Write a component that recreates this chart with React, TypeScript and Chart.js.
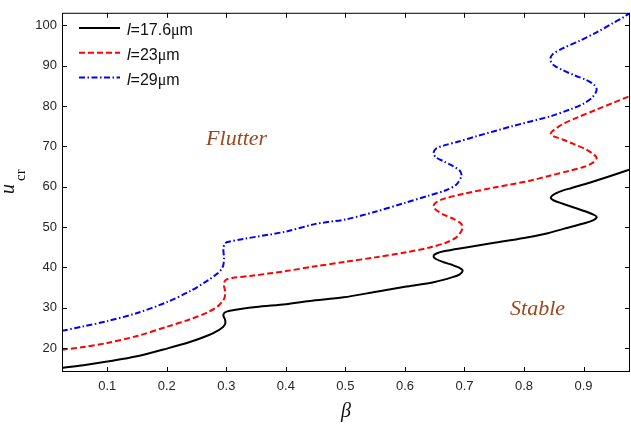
import React, { useEffect, useRef } from 'react';
import { Chart, registerables } from 'chart.js';

Chart.register(...registerables);

// ---- axis ranges and tick labels ----
const X_MIN = 0.024;
const X_MAX = 0.978;
const Y_MIN = 14.1;
const Y_MAX = 103.1;
const xTicks = [0.1, 0.2, 0.3, 0.4, 0.5, 0.6, 0.7, 0.8, 0.9];
const yTicks = [20, 30, 40, 50, 60, 70, 80, 90, 100];

// ---- series (beta, u_cr) ----
const seriesLengths = ['17.6', '23', '29'];

const blackX = [0.024, 0.06, 0.1, 0.15, 0.2, 0.24, 0.27, 0.285, 0.294, 0.298, 0.298, 0.296, 0.295, 0.298, 0.306, 0.35, 0.4, 0.44, 0.497, 0.552, 0.6, 0.65, 0.68, 0.692, 0.697, 0.693, 0.68, 0.665, 0.652, 0.648, 0.652, 0.665, 0.7, 0.75, 0.8, 0.84, 0.87, 0.9, 0.915, 0.922, 0.918, 0.905, 0.885, 0.865, 0.85, 0.845, 0.848, 0.86, 0.88, 0.91, 0.94, 0.978];
const blackY = [15.1, 15.8, 16.7, 18.0, 19.9, 21.6, 23.2, 24.3, 25.2, 26.0, 27.0, 27.7, 28.3, 28.9, 29.3, 30.2, 30.9, 31.7, 32.6, 34.0, 35.2, 36.4, 37.6, 38.3, 39.2, 39.8, 40.6, 41.3, 42.1, 42.8, 43.4, 44.0, 44.9, 46.1, 47.3, 48.5, 49.7, 50.9, 51.6, 52.4, 53.0, 53.8, 54.8, 55.8, 56.6, 57.2, 57.9, 58.8, 59.7, 61.0, 62.4, 64.3];

const redX = [0.024, 0.06, 0.1, 0.15, 0.2, 0.24, 0.27, 0.285, 0.293, 0.297, 0.298, 0.296, 0.297, 0.3, 0.31, 0.34, 0.4, 0.45, 0.5, 0.55, 0.6, 0.64, 0.67, 0.688, 0.697, 0.694, 0.682, 0.665, 0.652, 0.648, 0.652, 0.665, 0.7, 0.75, 0.81, 0.845, 0.875, 0.9, 0.915, 0.922, 0.918, 0.905, 0.885, 0.865, 0.85, 0.845, 0.848, 0.866, 0.89, 0.92, 0.95, 0.978];
const redY = [19.6, 20.3, 21.3, 23.0, 25.3, 27.2, 29.0, 30.3, 31.5, 32.5, 34.0, 35.5, 36.5, 37.0, 37.4, 37.9, 39.1, 40.3, 41.4, 42.5, 43.7, 44.9, 46.2, 47.7, 49.8, 50.9, 52.0, 53.1, 54.3, 55.2, 56.1, 57.0, 58.3, 59.8, 61.5, 62.8, 63.9, 64.9, 65.9, 67.1, 67.9, 69.2, 70.5, 71.7, 72.5, 73.1, 73.8, 75.6, 77.2, 79.0, 80.8, 82.5];

const blueX = [0.024, 0.06, 0.1, 0.15, 0.2, 0.24, 0.27, 0.285, 0.292, 0.295, 0.296, 0.295, 0.297, 0.302, 0.33, 0.4, 0.45, 0.5, 0.55, 0.6, 0.64, 0.67, 0.686, 0.695, 0.692, 0.68, 0.665, 0.652, 0.648, 0.652, 0.665, 0.69, 0.72, 0.78, 0.845, 0.88, 0.9, 0.915, 0.922, 0.918, 0.905, 0.885, 0.865, 0.85, 0.844, 0.848, 0.865, 0.894, 0.925, 0.95, 0.968, 0.978];
const blueY = [24.3, 25.4, 26.7, 28.7, 31.4, 34.2, 36.9, 38.5, 39.6, 40.6, 42.5, 44.5, 45.8, 46.3, 47.1, 48.9, 50.8, 51.9, 53.8, 56.0, 57.8, 59.2, 60.5, 62.7, 64.0, 65.2, 66.3, 67.3, 68.3, 69.4, 70.2, 71.2, 72.5, 75.0, 77.5, 79.3, 80.6, 82.2, 84.0, 85.2, 86.4, 87.6, 88.9, 90.1, 91.5, 92.8, 94.3, 96.2, 98.5, 100.6, 102.1, 103.1];

// ---- region annotations: text, beta, u_cr (baseline) ----
const regionText = ['Flutter', 'Stable'];
const regionX = [0.266, 0.7766];
const regionY = [70.35, 28.2];

const lineColors = ['#000000', '#ff0000', '#0000ff'];
const lineDashes: number[][] = [[], [6, 3], [6, 2.5, 1.5, 2.5]];

function zip(xs: number[], ys: number[]) {
  return xs.map((x, i) => ({ x, y: ys[i] }));
}

const decorPlugin = {
  id: 'decor',
  afterDraw(chart: any) {
    const { ctx, chartArea: a, scales } = chart;
    const xs = scales.x;
    const ys = scales.y;
    ctx.save();
    // frame
    ctx.strokeStyle = '#000';
    ctx.lineWidth = 1;
    ctx.setLineDash([]);
    ctx.strokeRect(a.left + 0.5, a.top + 0.5, a.right - a.left - 1, a.bottom - a.top - 1);
    // inward ticks
    const tl = 5;
    ctx.beginPath();
    for (const v of xTicks) {
      const p = Math.round(xs.getPixelForValue(v)) + 0.5;
      ctx.moveTo(p, a.bottom);
      ctx.lineTo(p, a.bottom - tl);
      ctx.moveTo(p, a.top);
      ctx.lineTo(p, a.top + tl);
    }
    for (const v of yTicks) {
      const p = Math.round(ys.getPixelForValue(v)) + 0.5;
      ctx.moveTo(a.left, p);
      ctx.lineTo(a.left + tl, p);
      ctx.moveTo(a.right, p);
      ctx.lineTo(a.right - tl, p);
    }
    ctx.stroke();

    // legend
    for (let i = 0; i < seriesLengths.length; i++) {
      const ly = 28 + i * 24.8;
      ctx.strokeStyle = lineColors[i];
      ctx.lineWidth = 2;
      ctx.setLineDash(lineDashes[i]);
      ctx.beginPath();
      ctx.moveTo(79, ly);
      ctx.lineTo(120, ly);
      ctx.stroke();
      ctx.setLineDash([]);
      ctx.fillStyle = '#111';
      ctx.textBaseline = 'alphabetic';
      ctx.textAlign = 'left';
      const by = 35 + i * 24.8;
      let x = 127;
      ctx.font = 'italic 16px "Liberation Sans", Arial, sans-serif';
      ctx.fillText('l', x, by);
      x += ctx.measureText('l').width;
      ctx.font = '16px "Liberation Sans", Arial, sans-serif';
      const s = '=' + seriesLengths[i];
      ctx.fillText(s, x, by);
      x += ctx.measureText(s).width;
      ctx.font = '16px "Liberation Serif", "Times New Roman", serif';
      ctx.fillText('\u03bc', x, by);
      x += ctx.measureText('\u03bc').width;
      ctx.font = '16px "Liberation Sans", Arial, sans-serif';
      ctx.fillText('m', x, by);
    }

    // region labels
    ctx.fillStyle = '#a0461e';
    ctx.font = 'italic 22px "Liberation Serif", "Times New Roman", serif';
    for (let i = 0; i < regionText.length; i++) {
      ctx.fillText(regionText[i], xs.getPixelForValue(regionX[i]), ys.getPixelForValue(regionY[i]));
    }

    // axis titles
    ctx.fillStyle = '#111';
    ctx.textAlign = 'center';
    ctx.textBaseline = 'middle';
    ctx.font = 'italic 20px "Liberation Serif", "Times New Roman", serif';
    ctx.fillText('\u03b2', (a.left + a.right) / 2, 412);

    ctx.save();
    ctx.translate(14, 194);
    ctx.rotate(-Math.PI / 2);
    ctx.textAlign = 'left';
    ctx.textBaseline = 'alphabetic';
    ctx.font = 'italic 20px "Liberation Serif", "Times New Roman", serif';
    ctx.fillText('u', 0, 0);
    const uw = ctx.measureText('u').width;
    ctx.font = '15px "Liberation Serif", "Times New Roman", serif';
    ctx.fillText('cr', uw + 3, 11);
    ctx.restore();

    ctx.restore();
  },
};

export default function App() {
  const ref = useRef<HTMLCanvasElement | null>(null);

  useEffect(() => {
    if (!ref.current) return;
    const datasets = [
      zip(blackX, blackY),
      zip(redX, redY),
      zip(blueX, blueY),
    ].map((data, i) => ({
      label: 'l=' + seriesLengths[i] + '\u03bcm',
      data,
      showLine: true,
      borderColor: lineColors[i],
      backgroundColor: lineColors[i],
      borderWidth: 2,
      borderDash: lineDashes[i],
      pointRadius: 0,
      pointHoverRadius: 0,
      tension: 0.3,
      fill: false,
    }));

    const tickFont = { family: '"Liberation Sans", Arial, sans-serif', size: 13 };
    const chart = new Chart(ref.current, {
      type: 'scatter',
      data: { datasets },
      options: {
        animation: false,
        responsive: false,
        events: [],
        layout: { padding: { top: 5, right: 1, left: 0, bottom: 0 } },
        plugins: {
          legend: { display: false },
          tooltip: { enabled: false },
          title: { display: false },
        },
        scales: {
          x: {
            type: 'linear',
            min: X_MIN,
            max: X_MAX,
            grid: { display: false, drawTicks: false },
            border: { display: false },
            afterBuildTicks: (s: any) => {
              s.ticks = xTicks.map((v) => ({ value: v }));
            },
            afterFit: (s: any) => {
              s.height = 54;
            },
            ticks: {
              color: '#262626',
              font: tickFont,
              padding: 7,
              maxRotation: 0,
              autoSkip: false,
              callback: (v: any) => Number(v).toFixed(1),
            },
          },
          y: {
            type: 'linear',
            min: Y_MIN,
            max: Y_MAX,
            grid: { display: false, drawTicks: false },
            border: { display: false },
            afterBuildTicks: (s: any) => {
              s.ticks = yTicks.map((v) => ({ value: v }));
            },
            afterFit: (s: any) => {
              s.width = 62;
            },
            ticks: {
              color: '#262626',
              font: tickFont,
              padding: 5,
              autoSkip: false,
              callback: (v: any) => String(Math.round(Number(v))),
            },
          },
        },
      },
      plugins: [decorPlugin],
    });
    return () => chart.destroy();
  }, []);

  return (
    <div style={{ position: 'fixed', left: 0, top: 0, width: 631, height: 426, background: '#fff' }}>
      <canvas ref={ref} width={631} height={426} style={{ display: 'block' }} />
    </div>
  );
}
